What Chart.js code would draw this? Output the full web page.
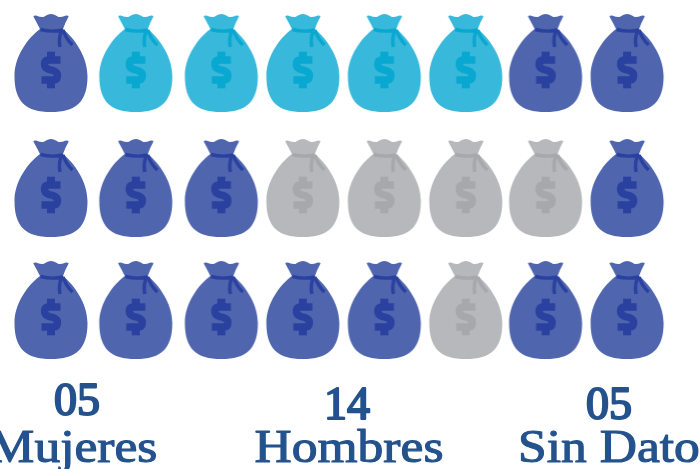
<!DOCTYPE html>
<html><head><meta charset="utf-8">
<style>html,body{margin:0;padding:0;background:#fff}canvas{display:block}</style>
<script src="https://cdn.jsdelivr.net/npm/chart.js@4"></script></head>
<body><canvas id="c" width="700" height="469"></canvas>
<script>
// data
const categories = ["Mujeres", "Hombres", "Sin Dato"];
const countLabels = ["05", "14", "05"];
const row1 = ["Hombres","Mujeres","Mujeres","Mujeres","Mujeres","Mujeres","Hombres","Hombres"];
const row2 = ["Hombres","Hombres","Hombres","Sin Dato","Sin Dato","Sin Dato","Sin Dato","Hombres"];
const row3 = ["Hombres","Hombres","Hombres","Hombres","Hombres","Sin Dato","Hombres","Hombres"];
const rows = [row1, row2, row3];

// layout & styling (not data)
const colUnit = 82.3, rowUnit = 123.5;
const colNudge = [0, 0.03, 0.07, 0.06, 0.05, 0.04, 0.01, 0];
const rowNudge = [0, 0.012, 0];
const palette = {
  "Mujeres":  {body:"#38b8da", dark:"#08a8d0"},
  "Hombres":  {body:"#4f65ae", dark:"#2a41a0"},
  "Sin Dato": {body:"#b7b8bb", dark:"#a7a8ac"}
};
const labelStyle = [
  {numX:77,  textX:73,  y1:415, y2:462},
  {numX:347, textX:349, y1:419, y2:462},
  {numX:609, textX:609, y1:419, y2:462}
];

function bag(colors){
  const W=84,H=106,c=document.createElement("canvas");
  c.width=W;c.height=H;
  const g=c.getContext("2d");
  g.translate(W/2,(H-98)/2);
  g.fillStyle=colors.body;
  g.beginPath();
  g.moveTo(-17.5,2.7);
  g.quadraticCurveTo(-18,1.5,-15,1.5);
  g.quadraticCurveTo(-10,3.5,-7.5,3);
  g.quadraticCurveTo(-3,0,0,0);
  g.quadraticCurveTo(3,0,7.5,3);
  g.quadraticCurveTo(10,3.5,15,1.5);
  g.quadraticCurveTo(18,1.5,17.5,2.7);
  g.quadraticCurveTo(14,9,12,15);
  g.bezierCurveTo(23,24,36.5,42,36.5,62);
  g.bezierCurveTo(36.5,88,25,98,0,98);
  g.bezierCurveTo(-25,98,-36.5,88,-36.5,62);
  g.bezierCurveTo(-36.5,42,-23,24,-11,15);
  g.quadraticCurveTo(-14,9,-17.5,2.7);
  g.closePath();
  g.fill();
  g.strokeStyle=colors.dark;g.lineCap="butt";g.lineJoin="round";
  g.lineWidth=3.4;
  g.beginPath();g.moveTo(-10.5,15.5);g.quadraticCurveTo(1,18.5,12,16);g.stroke();
  g.beginPath();g.moveTo(11,16);g.quadraticCurveTo(7,24,9,33);g.stroke();
  g.beginPath();g.moveTo(12,16);g.quadraticCurveTo(15,25,21.5,31);g.stroke();
  // dollar sign
  g.lineWidth=7.4;g.lineJoin="miter";
  g.beginPath();
  g.moveTo(9.5,46);g.lineTo(-2,46);
  g.quadraticCurveTo(-6.5,46,-6.5,50.5);
  g.quadraticCurveTo(-6.5,54,-2,55.5);
  g.lineTo(2,56.5);
  g.quadraticCurveTo(6.5,58,6.5,61.5);
  g.quadraticCurveTo(6.5,66,2,66);
  g.lineTo(-9.5,66);
  g.stroke();
  g.fillStyle=colors.dark;
  g.fillRect(-4,37.7,8,6);
  g.fillRect(-4,68,8,6.3);
  return c;
}

const datasets = categories.map(cat => ({
  label: cat,
  pointStyle: bag(palette[cat]),
  pointRadius: 40,
  pointHoverRadius: 40,
  clip: false,
  data: rows.flatMap((row,r) => row.flatMap((v,i) =>
    v===cat ? [{x:i+colNudge[i], y:r+rowNudge[r]}] : []))
}));

const labelsPlugin = {
  id:"labels",
  afterDatasetsDraw(chart){
    const ctx=chart.ctx;
    ctx.save();
    ctx.fillStyle=ctx.strokeStyle="#24528c";
    ctx.textAlign="center";
    ctx.textBaseline="alphabetic";
    ctx.lineJoin="round";
    ctx.font='46px "Liberation Serif"';
    categories.forEach((cat,i)=>{
      const s=labelStyle[i];
      ctx.lineWidth=2;
      ctx.fillText(countLabels[i],s.numX,s.y1);
      ctx.strokeText(countLabels[i],s.numX,s.y1);
      ctx.save();
      ctx.translate(s.textX,s.y2);
      ctx.scale(1.12,1);
      ctx.lineWidth=1.1;
      ctx.fillText(cat,0,0);
      ctx.strokeText(cat,0,0);
      ctx.restore();
    });
    ctx.restore();
  }
};

new Chart(document.getElementById("c"),{
  type:"scatter",
  data:{datasets},
  plugins:[labelsPlugin],
  options:{
    responsive:false,animation:false,
    layout:{padding:0,autoPadding:false},
    plugins:{legend:{display:false},tooltip:{enabled:false},title:{display:false}},
    scales:{
      x:{type:"linear",display:false,min:-51/colUnit,max:(700-51)/colUnit},
      y:{type:"linear",display:false,reverse:true,min:-63/rowUnit,max:(469-63)/rowUnit}
    }
  }
});
</script></body></html>
